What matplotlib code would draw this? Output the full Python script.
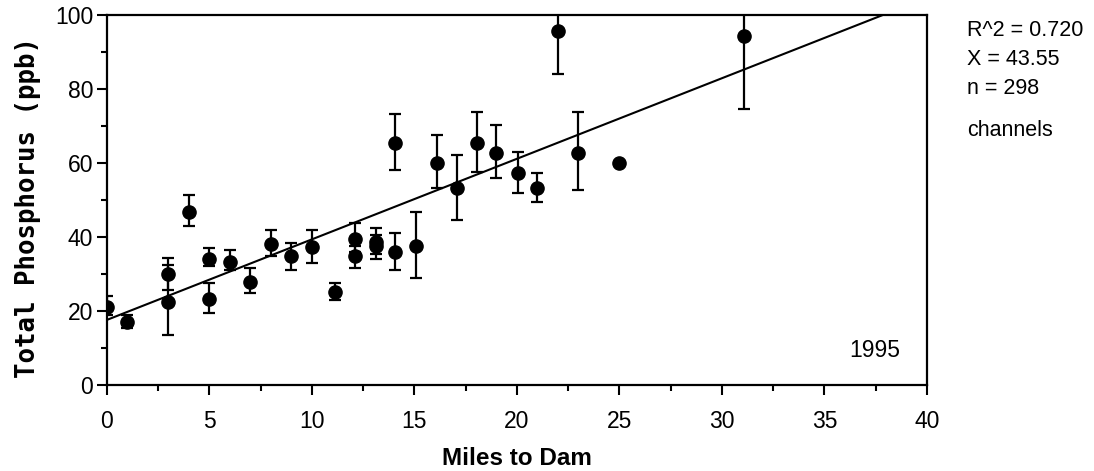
import numpy as np
import matplotlib.pyplot as plt
from matplotlib.ticker import MultipleLocator

# station data: miles to dam, mean TP, error bar bounds
miles = [0, 1, 3, 3, 4, 5, 5, 6, 7, 8, 9, 10, 11.1, 12.1, 12.1, 13.1, 13.1,
         14.05, 14.05, 15.07, 16.1, 17.07, 18.05, 19.0, 20.05, 21.0, 22.0,
         23.0, 25.0, 31.07]
tp = [21.1, 17.0, 22.4, 30.0, 46.8, 34.0, 23.2, 33.3, 27.9, 38.0, 34.9, 37.4,
      25.2, 39.4, 34.9, 38.7, 37.6, 65.4, 36.0, 37.6, 60.0, 53.2, 65.4, 62.6,
      57.2, 53.2, 95.7, 62.6, 60.0, 94.3]
tp_hi = [24.0, 19.0, 32.4, 34.4, 51.3, 37.0, 27.6, 36.5, 31.7, 42.0, 38.4,
         42.0, 27.5, 43.9, 37.5, 42.4, 40.5, 73.2, 41.0, 46.7, 67.6, 62.2,
         73.7, 70.3, 63.0, 57.3, 103.0, 73.7, 60.0, 103.0]
tp_lo = [19.0, 15.4, 13.5, 25.7, 43.0, 32.2, 19.4, 31.0, 24.8, 34.9, 31.0,
         32.9, 23.0, 36.0, 31.7, 35.5, 34.0, 58.1, 31.0, 29.0, 53.3, 44.6,
         57.5, 56.0, 52.0, 49.4, 84.0, 52.7, 60.0, 74.6]

# regression line end points
fit_x = [0, 37.85]
fit_y = [17.6, 100]

stats = ["R^2 = 0.720", "X = 43.55", "n = 298"]
group = "channels"
year = "1995"

plt.rcParams['font.family'] = ['Liberation Sans', 'DejaVu Sans']

fig = plt.figure(figsize=(10.94, 4.71), dpi=100)
ax = fig.add_axes([0.0978, 0.1826, 0.7495, 0.7856])

tp = np.array(tp)
yerr = [tp - np.array(tp_lo), np.array(tp_hi) - tp]
ax.errorbar(miles, tp, yerr=yerr, fmt='o', color='black', markersize=9.5,
            elinewidth=1.6, capsize=4.5, capthick=1.6, zorder=3)
ax.plot(fit_x, fit_y, color='black', linewidth=1.5, zorder=2)

ax.set_xlim(0, 40)
ax.set_ylim(0, 100)
ax.xaxis.set_major_locator(MultipleLocator(5))
ax.xaxis.set_minor_locator(MultipleLocator(2.5))
ax.yaxis.set_major_locator(MultipleLocator(20))
ax.yaxis.set_minor_locator(MultipleLocator(10))
ax.tick_params(which='major', direction='out', length=7, width=1.5,
               labelsize=16.5)
ax.tick_params(axis='x', which='major', pad=11)
ax.tick_params(axis='y', which='major', pad=3)
ax.tick_params(which='minor', direction='out', length=4.5, width=1.5)
for s in ax.spines.values():
    s.set_linewidth(1.6)

ax.set_xlabel("Miles to Dam", fontsize=17.5, fontweight='bold', labelpad=10)
ax.set_ylabel("Total Phosphorus (ppb)", fontsize=18.5, fontweight='bold',
              family=['DejaVu Sans Mono'])
ax.yaxis.set_label_coords(-0.08, 0.48)

ax.text(38.7, 9.2, year, fontsize=16.5, ha='right', va='center')

ys = [0.936, 0.873, 0.813]
for t, y in zip(stats, ys):
    fig.text(0.884, y, t, fontsize=15.5, va='center')
fig.text(0.884, 0.722, group, fontsize=15.5, va='center')

fig.savefig("out.png", dpi=100)
